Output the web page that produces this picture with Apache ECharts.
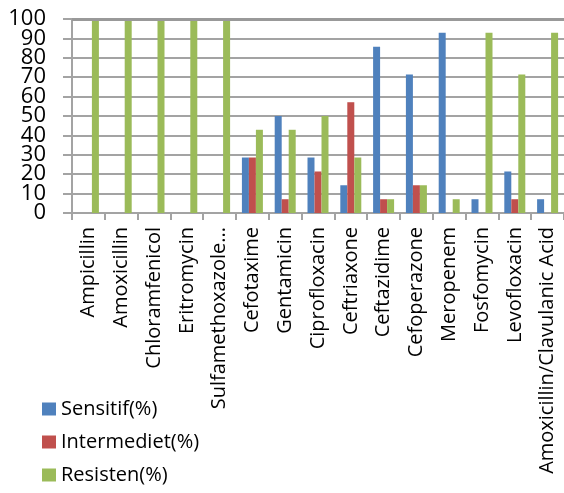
<!DOCTYPE html>
<html>
<head>
<meta charset="utf-8">
<title>Antibiotic susceptibility</title>
<script src="https://cdn.jsdelivr.net/npm/echarts@6/dist/echarts.min.js"></script>
<style>
  html, body { margin: 0; padding: 0; background: #fff; }
  #chart { width: 564px; height: 493px; }
</style>
</head>
<body>
<div id="chart"></div>
<script>
// Antibiotics tested
const categories = [
  'Ampicillin', 'Amoxicillin', 'Chloramfenicol', 'Eritromycin', 'Sulfamethoxazole...',
  'Cefotaxime', 'Gentamicin', 'Ciprofloxacin', 'Ceftriaxone', 'Ceftazidime',
  'Cefoperazone', 'Meropenem', 'Fosfomycin', 'Levofloxacin', 'Amoxicillin/Clavulanic Acid'
];

// Percentage of isolates per outcome
const sensitif    = [0, 0, 0, 0, 0, 28.6, 50, 28.6, 14.3, 85.7, 71.4, 92.9, 7.1, 21.4, 7.1];
const intermediet = [0, 0, 0, 0, 0, 28.6, 7.1, 21.4, 57.1, 7.1, 14.3, 0, 0, 7.1, 0];
const resisten    = [100, 100, 100, 100, 100, 42.9, 42.9, 50, 28.6, 7.1, 14.3, 7.1, 92.9, 71.4, 92.9];

// Value axis tick labels (0..100 step 10)
const yTickLabels = ['0', '10', '20', '30', '40', '50', '60', '70', '80', '90', '100'];

const seriesNames = ['Sensitif(%)', 'Intermediet(%)', 'Resisten(%)'];
const seriesColors = ['#4F81BD', '#C0504D', '#9BBB59'];

// Value axis range
const yMin = 0;
const yMax = 100;
const yStep = 10;

const FONT = '"Open Sans", "DejaVu Sans", sans-serif';
const GRID_COLOR = '#a3a3a3';

const chart = echarts.init(document.getElementById('chart'), null, { renderer: 'canvas' });

const seriesData = [sensitif, intermediet, resisten];

chart.setOption({
  animation: false,
  backgroundColor: '#ffffff',
  textStyle: { fontFamily: FONT, color: '#000' },
  legend: {
    orient: 'vertical',
    left: 37,
    top: 394,
    itemWidth: 14,
    itemHeight: 13,
    itemGap: 13,
    icon: 'rect',
    textStyle: { fontFamily: FONT, fontSize: 20, color: '#000' },
    data: seriesNames
  },
  grid: {
    left: 72,
    right: 0,
    top: 19,
    bottom: 280,
    containLabel: false,
    outerBoundsMode: 'none'
  },
  xAxis: [
    {
      type: 'category',
      data: categories,
      boundaryGap: true,
      axisLine: { show: true, lineStyle: { color: GRID_COLOR, width: 2 } },
      axisTick: { show: true, length: 7, lineStyle: { color: GRID_COLOR, width: 2 } },
      axisLabel: {
        interval: 0,
        rotate: 90,
        margin: 14,
        fontFamily: FONT,
        fontSize: 20,
        color: '#000',
        hideOverlap: false
      },
      splitLine: { show: false }
    }
  ],
  yAxis: [
    {
      // value scale used by the bars
      type: 'value',
      min: yMin,
      max: yMax,
      interval: yStep,
      axisLine: { show: true, lineStyle: { color: GRID_COLOR, width: 2 } },
      axisTick: { show: false },
      axisLabel: { show: false },
      splitLine: { show: true, lineStyle: { color: GRID_COLOR, width: 2 } }
    },
    {
      // tick marks and labels for every step of the value scale
      type: 'category',
      position: 'left',
      data: yTickLabels,
      boundaryGap: false,
      axisLine: { show: false },
      axisTick: { show: true, interval: 0, length: 9, lineStyle: { color: GRID_COLOR, width: 2 } },
      axisLabel: {
        interval: 0,
        margin: 26,
        fontFamily: FONT,
        fontSize: 22,
        color: '#000',
        hideOverlap: false
      },
      splitLine: { show: false }
    }
  ],
  series: seriesNames.map((name, i) => {
    const s = {
      name: name,
      type: 'bar',
      xAxisIndex: 0,
      yAxisIndex: 0,
      data: seriesData[i],
      barWidth: 7,
      barGap: '0%',
      itemStyle: { color: seriesColors[i] }
    };
    if (i === 0) {
      // gridline at the top of the value scale
      s.markLine = {
        silent: true,
        clip: false,
        z: 10,
        symbol: ['none', 'none'],
        label: { show: false },
        lineStyle: { type: 'solid', color: '#999999', width: 3, opacity: 1 },
        data: [{ yAxis: yMax }]
      };
    }
    return s;
  })
});
</script>
</body>
</html>
